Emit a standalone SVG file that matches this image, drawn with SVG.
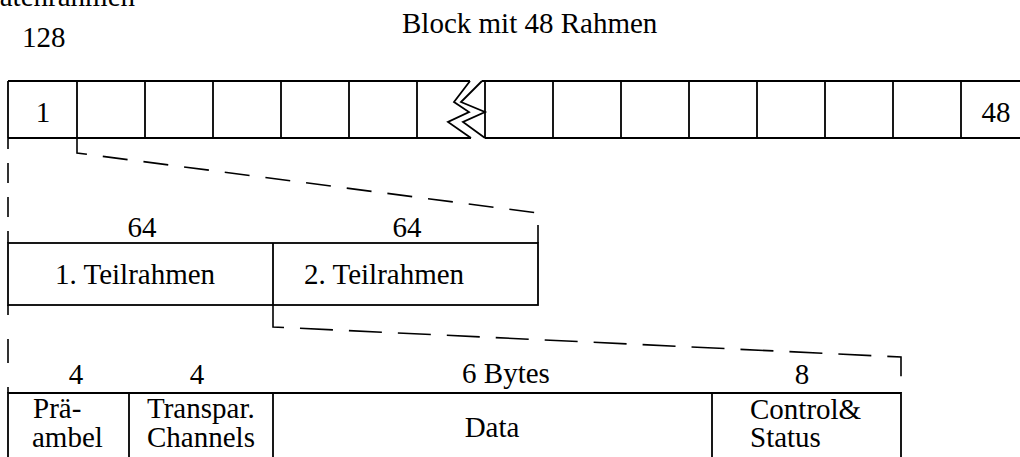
<svg xmlns="http://www.w3.org/2000/svg" width="1020" height="457" viewBox="0 0 1020 457">
  <style>
    text { font-family: "Liberation Serif", "Times New Roman", serif; font-size: 29px; fill: #000; }
    .mid { text-anchor: middle; }
    .box { fill: none; stroke: #000; stroke-width: 1.8; }
    .ln { fill: none; stroke: #000; stroke-width: 1.8; }
    .dash { fill: none; stroke: #000; stroke-width: 1.6; }
  </style>

  <!-- headings -->
  <g id="headings">
    <text x="135" y="6" text-anchor="end">Datenrahmen</text>
    <text x="22" y="47">128</text>
    <text x="402" y="33">Block mit 48 Rahmen</text>
  </g>

  <!-- block of 48 frames, broken in the middle -->
  <g id="block">
    <path class="ln" d="M8,81 H470 M8,138 H471 M482,81 H1030 M485,138 H1030 M8,81 V138"/>
    <path class="ln" d="M77,81 V138 M145,81 V138 M213,81 V138 M281,81 V138 M349,81 V138 M417,81 V138"/>
    <path class="ln" d="M485,81 V138 M553,81 V138 M621,81 V138 M689,81 V138 M757,81 V138 M825,81 V138 M893,81 V138 M961,81 V138"/>
    <!-- break marks -->
    <polyline class="ln" points="470,81 454,102 469,112 448,122 471,138"/>
    <polyline class="ln" points="482,81 461,102 485,112 463,122 485,138"/>
    <text x="43" y="122" class="mid">1</text>
    <text x="996" y="122" class="mid">48</text>
  </g>

  <!-- one frame split into two sub-frames -->
  <g id="frame">
    <rect class="box" x="8" y="243" width="530" height="62"/>
    <line class="ln" x1="273" y1="243" x2="273" y2="305"/>
    <text x="142" y="237" class="mid">64</text>
    <text x="407" y="237" class="mid">64</text>
    <text x="55" y="284">1. Teilrahmen</text>
    <text x="304" y="284">2. Teilrahmen</text>
  </g>

  <!-- sub-frame fields -->
  <g id="subframe">
    <path class="ln" d="M8,460 V393 H901 V460 M129,393 V460 M273,393 V460 M712,393 V460"/>
    <text x="76" y="384" class="mid">4</text>
    <text x="197" y="384" class="mid">4</text>
    <text x="506" y="383" class="mid">6 Bytes</text>
    <text x="802" y="384" class="mid">8</text>
    <text x="33" y="418">Prä-</text>
    <text x="32" y="447">ambel</text>
    <text x="147" y="418">Transpar.</text>
    <text x="147" y="447">Channels</text>
    <text x="492" y="437" class="mid">Data</text>
    <text x="750" y="419">Control&amp;</text>
    <text x="750" y="447">Status</text>
  </g>

  <!-- dashed expansion lines -->
  <g id="connectors">
    <line class="dash" x1="8" y1="138" x2="8" y2="243" stroke-dasharray="20 14" stroke-dashoffset="9"/>
    <polyline class="dash" points="77,138 77,153 538,213 538,243" stroke-dasharray="25 16"/>
    <line class="dash" x1="8" y1="305" x2="8" y2="393" stroke-dasharray="24 24" stroke-dashoffset="14"/>
    <polyline class="dash" points="273,305 273,327 901,357 901,393" stroke-dasharray="33 16"/>
  </g>
</svg>
